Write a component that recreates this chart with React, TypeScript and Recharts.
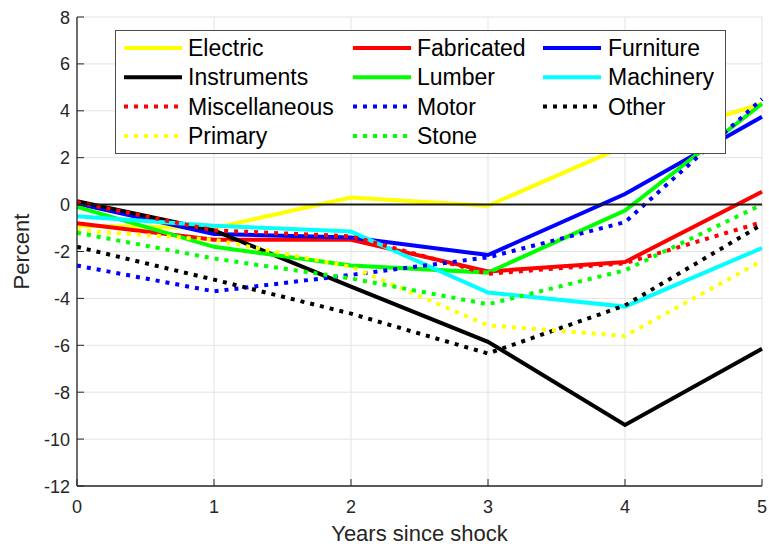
import { CartesianGrid, Label, Line, LineChart, ReferenceLine, XAxis, YAxis } from 'recharts'

const YEARS = [0, 1, 2, 3, 4, 5]
const Y_TICKS = [-12, -10, -8, -6, -4, -2, 0, 2, 4, 6, 8]

// percent change by years since shock, one array per industry
const electric = [-0.9, -1.0, 0.3, -0.05, 2.5, 4.3]
const fabricated = [-0.8, -1.5, -1.5, -2.85, -2.45, 0.55]
const furniture = [0.05, -1.25, -1.4, -2.15, 0.45, 3.75]
const instruments = [0.15, -1.1, -3.5, -5.85, -9.4, -6.15]
const lumber = [-0.1, -1.8, -2.6, -2.9, -0.25, 4.3]
const machinery = [-0.5, -0.9, -1.15, -3.75, -4.35, -1.85]
const miscellaneous = [0.1, -1.1, -1.35, -2.95, -2.5, -0.75]
const motor = [-2.6, -3.7, -3.0, -2.25, -0.75, 4.5]
const other = [-1.8, -3.2, -4.65, -6.35, -4.3, -0.85]
const primary = [-1.1, -1.5, -2.65, -5.15, -5.6, -2.4]
const stone = [-1.2, -2.3, -3.15, -4.25, -2.8, 0.0]

const FONT = '"Liberation Sans", Arial, Helvetica, sans-serif'
const AXIS_COLOR = '#262626'
const DOTTED = '4 6'

interface Series {
  key: string
  values: number[]
  color: string
  dotted: boolean
}

const SERIES: Series[] = [
  { key: 'Electric', values: electric, color: '#ffff00', dotted: false },
  { key: 'Fabricated', values: fabricated, color: '#ff0000', dotted: false },
  { key: 'Furniture', values: furniture, color: '#0000ff', dotted: false },
  { key: 'Instruments', values: instruments, color: '#000000', dotted: false },
  { key: 'Lumber', values: lumber, color: '#00ff00', dotted: false },
  { key: 'Machinery', values: machinery, color: '#00ffff', dotted: false },
  { key: 'Miscellaneous', values: miscellaneous, color: '#ff0000', dotted: true },
  { key: 'Motor', values: motor, color: '#0000ff', dotted: true },
  { key: 'Other', values: other, color: '#000000', dotted: true },
  { key: 'Primary', values: primary, color: '#ffff00', dotted: true },
  { key: 'Stone', values: stone, color: '#00ff00', dotted: true },
]

const data = YEARS.map((year, i) => {
  const row: Record<string, number> = { year }
  SERIES.forEach((s) => {
    row[s.key] = s.values[i]
  })
  return row
})

// ticks point inward, matlab style
function XTick(props: any) {
  const { x, y, payload } = props
  return (
    <g>
      <line x1={x} x2={x} y1={y} y2={y - 7} stroke={AXIS_COLOR} strokeWidth={1} />
      <text x={x} y={y + 27} textAnchor="middle" fontSize={18} fontFamily={FONT} fill={AXIS_COLOR}>
        {payload.value}
      </text>
    </g>
  )
}

function YTick(props: any) {
  const { x, y, payload } = props
  return (
    <g>
      <line x1={x} x2={x + 7} y1={y} y2={y} stroke={AXIS_COLOR} strokeWidth={1} />
      <text x={x - 7} y={y + 6.5} textAnchor="end" fontSize={18} fontFamily={FONT} fill={AXIS_COLOR}>
        {payload.value}
      </text>
    </g>
  )
}

// three-column legend box laid over the upper part of the plot
const LEGEND_COL_LINE = [124, 353, 543]
const LEGEND_COL_TEXT = [188, 417, 608]
const LEGEND_ROW_Y = 48
const LEGEND_ROW_STEP = 29.3

function LegendBox() {
  return (
    <svg
      width={769}
      height={548}
      style={{ position: 'absolute', left: 0, top: 0, pointerEvents: 'none' }}
    >
      <rect x={115.5} y={30.5} width={610} height={123} fill="#ffffff" stroke="#4d4d4d" strokeWidth={1} />
      {SERIES.map((s, i) => {
        const row = Math.floor(i / 3)
        const col = i % 3
        const y = LEGEND_ROW_Y + row * LEGEND_ROW_STEP
        return (
          <g key={s.key}>
            <line
              x1={LEGEND_COL_LINE[col]}
              x2={LEGEND_COL_LINE[col] + 58}
              y1={y}
              y2={y}
              stroke={s.color}
              strokeWidth={4}
              strokeDasharray={s.dotted ? DOTTED : undefined}
            />
            <text x={LEGEND_COL_TEXT[col]} y={y + 8} fontSize={23} fontFamily={FONT} fill="#000000">
              {s.key}
            </text>
          </g>
        )
      })}
    </svg>
  )
}

export default function App() {
  return (
    <div style={{ position: 'absolute', left: 0, top: 0, width: 769, height: 548, background: '#ffffff' }}>
      <LineChart width={769} height={548} data={data} margin={{ top: 17, right: 7, bottom: 0, left: 0 }}>
        <CartesianGrid stroke="#e3e3e3" strokeWidth={1} />
        <XAxis
          type="number"
          dataKey="year"
          domain={[0, 5]}
          ticks={YEARS}
          height={62}
          tickSize={0}
          tickMargin={0}
          tick={<XTick />}
          axisLine={{ stroke: AXIS_COLOR, strokeWidth: 1.3 }}
          tickLine={false}
        >
          <Label
            content={({ viewBox }: any) => (
              <text
                x={viewBox.x + viewBox.width / 2}
                y={541}
                textAnchor="middle"
                fontSize={22}
                fontFamily={FONT}
                fill={AXIS_COLOR}
              >
                Years since shock
              </text>
            )}
          />
        </XAxis>
        <YAxis
          type="number"
          domain={[-12, 8]}
          ticks={Y_TICKS}
          width={77}
          tickSize={0}
          tickMargin={0}
          tick={<YTick />}
          axisLine={{ stroke: AXIS_COLOR, strokeWidth: 1.3 }}
          tickLine={false}
          allowDataOverflow
        >
          <Label
            content={({ viewBox }: any) => {
              const cy = viewBox.y + viewBox.height / 2
              return (
                <text
                  x={29}
                  y={cy}
                  transform={`rotate(-90 29 ${cy})`}
                  textAnchor="middle"
                  fontSize={22}
                  fontFamily={FONT}
                  fill={AXIS_COLOR}
                >
                  Percent
                </text>
              )
            }}
          />
        </YAxis>
        {SERIES.map((s) => (
          <Line
            key={s.key}
            type="linear"
            dataKey={s.key}
            stroke={s.color}
            strokeWidth={4}
            strokeDasharray={s.dotted ? DOTTED : undefined}
            dot={false}
            activeDot={false}
            isAnimationActive={false}
          />
        ))}
        <ReferenceLine y={0} stroke="#1a1a1a" strokeWidth={2} />
      </LineChart>
      <LegendBox />
    </div>
  )
}
